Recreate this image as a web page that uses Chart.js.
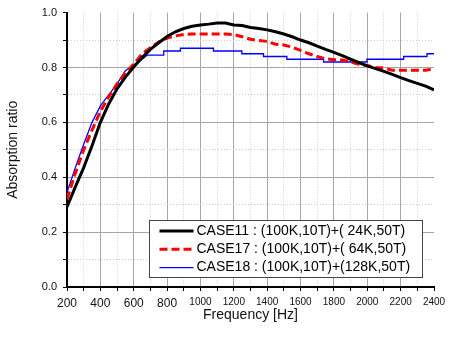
<!DOCTYPE html>
<html>
<head>
<meta charset="utf-8">
<script src="https://cdn.jsdelivr.net/npm/chart.js@4.4.0/dist/chart.umd.min.js"></script>
<style>
  body { margin: 0; background: #fff; }
</style>
</head>
<body>
<canvas id="absChart" width="455" height="339"></canvas>
<script>
// values
const freq = [200, 250, 300, 350, 400, 450, 500, 550, 600, 650, 700, 750, 800, 850, 900, 950,
  1000, 1050, 1100, 1150, 1200, 1250, 1300, 1350, 1400, 1450, 1500, 1550, 1600, 1650, 1700,
  1750, 1800, 1850, 1900, 1950, 2000, 2050, 2100, 2150, 2200, 2250, 2300, 2350, 2400];
const case11 = [0.292, 0.365, 0.435, 0.515, 0.600, 0.667, 0.722, 0.765, 0.802, 0.836, 0.866,
  0.890, 0.913, 0.930, 0.942, 0.950, 0.955, 0.958, 0.962, 0.962, 0.955, 0.953, 0.946, 0.942,
  0.937, 0.930, 0.922, 0.912, 0.900, 0.890, 0.878, 0.866, 0.855, 0.843, 0.830, 0.818, 0.806,
  0.796, 0.786, 0.775, 0.763, 0.752, 0.742, 0.732, 0.718];
const case17 = [0.320, 0.415, 0.500, 0.572, 0.640, 0.693, 0.740, 0.780, 0.812, 0.850, 0.872,
  0.893, 0.907, 0.915, 0.920, 0.922, 0.922, 0.922, 0.922, 0.922, 0.920, 0.912, 0.903, 0.898,
  0.895, 0.885, 0.882, 0.874, 0.862, 0.850, 0.840, 0.832, 0.828, 0.827, 0.820, 0.812, 0.807,
  0.800, 0.798, 0.790, 0.790, 0.790, 0.790, 0.790, 0.795];
// CASE18 is a staircase, so its breakpoints are listed twice
const freq18 = [200, 250, 300, 350, 400, 450, 500, 550, 600, 640, 680, 780, 780, 880, 880, 1078,
  1078, 1248, 1248, 1378, 1378, 1518, 1518, 1738, 1738, 1998, 1998, 2218, 2218, 2358, 2358, 2400];
const case18 = [0.345, 0.435, 0.520, 0.600, 0.660, 0.700, 0.740, 0.788, 0.810, 0.825, 0.845,
  0.845, 0.860, 0.860, 0.870, 0.870, 0.860, 0.860, 0.850, 0.850, 0.840, 0.840, 0.830, 0.830,
  0.820, 0.820, 0.830, 0.830, 0.840, 0.840, 0.850, 0.850];

const seriesLabels = [
  'CASE11 : (100K,10T)+( 24K,50T)',
  'CASE17 : (100K,10T)+( 64K,50T)',
  'CASE18 : (100K,10T)+(128K,50T)'
];
const xMin = 200, xMax = 2400, xStep = 100;
const yMin = 0, yMax = 1, yStep = 0.1;

const pts = (xs, ys) => xs.map((x, i) => ({ x: x, y: ys[i] }));

const FONT = '"Liberation Sans", Arial, sans-serif';

// boxed legend inside the plot, lower right
const boxLegend = {
  id: 'boxLegend',
  afterDatasetsDraw(chart) {
    const ctx = chart.ctx;
    const left = 149.5, top = 220.5, w = 273, h = 57;
    ctx.save();
    ctx.fillStyle = '#fff';
    ctx.fillRect(left, top, w, h);
    ctx.strokeStyle = '#444';
    ctx.lineWidth = 1;
    ctx.strokeRect(left, top, w, h);
    ctx.font = '14px ' + FONT;
    ctx.textBaseline = 'middle';
    ctx.fillStyle = '#000';
    chart.data.datasets.forEach((ds, i) => {
      const y = top + 10.5 + i * 18.3;
      ctx.beginPath();
      ctx.strokeStyle = ds.borderColor;
      ctx.lineWidth = ds.borderWidth;
      ctx.setLineDash(ds.borderDash || []);
      ctx.moveTo(left + 10, y);
      ctx.lineTo(left + 44, y);
      ctx.stroke();
      ctx.setLineDash([]);
      ctx.fillText(ds.label, left + 47, y);
    });
    ctx.restore();
  }
};

const isMajorX = v => Math.round(v) % 200 === 0;
const isMajorY = v => Math.round(v * 10) % 2 === 0;

new Chart(document.getElementById('absChart'), {
  type: 'line',
  data: {
    datasets: [
      {
        label: seriesLabels[0],
        data: pts(freq, case11),
        borderColor: '#000000',
        borderWidth: 3,
        pointRadius: 0
      },
      {
        label: seriesLabels[1],
        data: pts(freq, case17),
        borderColor: '#ff0000',
        borderWidth: 3,
        borderDash: [8, 4],
        pointRadius: 0
      },
      {
        label: seriesLabels[2],
        data: pts(freq18, case18),
        borderColor: '#0000ff',
        borderWidth: 1.3,
        pointRadius: 0
      }
    ]
  },
  options: {
    responsive: false,
    animation: false,
    layout: { padding: { top: 12, right: 21, left: 0, bottom: 0 } },
    plugins: {
      legend: { display: false },
      tooltip: { enabled: false }
    },
    scales: {
      x: {
        type: 'linear',
        min: xMin,
        max: xMax,
        afterFit: s => { s.height = 52; },
        ticks: {
          stepSize: xStep,
          autoSkip: false,
          maxRotation: 0,
          padding: 5,
          color: '#111',
          font: c => ({ family: FONT, size: c.tick && c.tick.value >= 1000 ? 10 : 12 }),
          callback: v => isMajorX(v) ? String(v) : ''
        },
        grid: {
          color: c => {
            if (!c.tick || c.tick.value >= xMax) return 'rgba(0,0,0,0)';
            return isMajorX(c.tick.value) ? '#a6a6a6' : '#cccccc';
          },
          lineWidth: 1,
          tickLength: 4,
          tickColor: '#000'
        },
        border: {
          color: '#000',
          width: 2,
          dash: c => (c.tick && !isMajorX(c.tick.value)) ? [1, 2] : []
        },
        title: {
          display: true,
          text: 'Frequency [Hz]',
          color: '#111',
          font: { family: FONT, size: 14 },
          padding: { top: 0, bottom: 15 }
        }
      },
      y: {
        min: yMin,
        max: yMax,
        afterFit: s => { s.width = 67; },
        ticks: {
          stepSize: yStep,
          autoSkip: false,
          padding: 6,
          color: '#111',
          font: { family: FONT, size: 11 },
          callback: v => isMajorY(v) ? v.toFixed(1) : ''
        },
        grid: {
          color: c => {
            if (!c.tick || c.tick.value >= yMax - 1e-6) return 'rgba(0,0,0,0)';
            return isMajorY(c.tick.value) ? '#a6a6a6' : '#cccccc';
          },
          lineWidth: 1,
          tickLength: 4,
          tickColor: '#000'
        },
        border: {
          color: '#000',
          width: 2,
          dash: c => (c.tick && !isMajorY(c.tick.value)) ? [1, 2] : []
        },
        title: {
          display: true,
          text: 'Absorption ratio',
          color: '#111',
          font: { family: FONT, size: 14 },
          padding: { top: 5, bottom: 0 }
        }
      }
    }
  },
  plugins: [boxLegend]
});
</script>
</body>
</html>
